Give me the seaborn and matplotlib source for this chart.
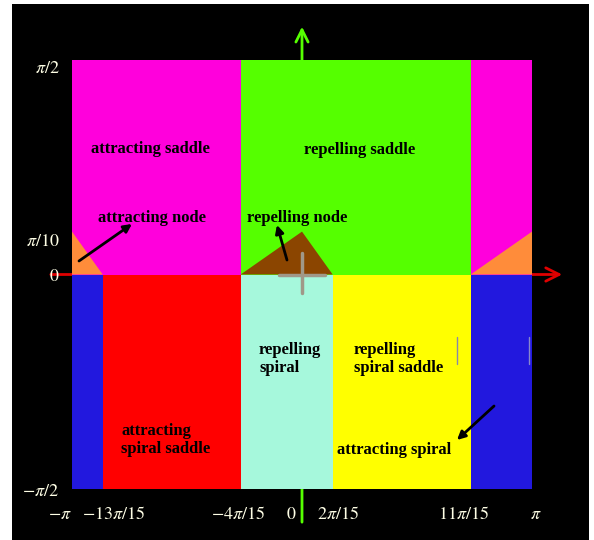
import numpy as np
import matplotlib
matplotlib.use("Agg")
import matplotlib.pyplot as plt
from matplotlib.patches import Rectangle
from matplotlib.transforms import ScaledTranslation
import seaborn as sns

PI = np.pi

# Parameter plane: theta (x) vs phi (y)
x_edges = [-PI, -13 * PI / 15, -4 * PI / 15, 2 * PI / 15, 11 * PI / 15, PI]
lower_colors = ["#2218DE", "#FF0000", "#A6F8DC", "#FFFF00", "#2218DE"]

upper_edges = [-PI, -4 * PI / 15, 11 * PI / 15, PI]
upper_colors = ["#FF00DC", "#55FF00", "#FF00DC"]

# node wedges sitting on phi = 0
node_left_x = [-PI, -PI, -13 * PI / 15]
node_left_y = [0, PI / 10, 0]
node_mid_x = [-4 * PI / 15, 0, 2 * PI / 15]
node_mid_y = [0, PI / 10, 0]
node_right_x = [11 * PI / 15, PI, PI]
node_right_y = [0, PI / 10, 0]
node_colors = ["#FF8C3A", "#8B4500", "#FF8C3A"]

x_ticks = [-PI, -13 * PI / 15, -4 * PI / 15, 0, 2 * PI / 15, 11 * PI / 15, PI]
x_tick_labels = [r"$-\pi$", r"$-13\pi/15$", r"$-4\pi/15$", r"$0$",
                 r"$2\pi/15$", r"$11\pi/15$", r"$\pi$"]
y_ticks = [-PI / 2, 0, PI / 10, PI / 2]
y_tick_labels = [r"$-\pi/2$", r"$0$", r"$\pi/10$", r"$\pi/2$"]

region_labels = [
    ("attracting saddle", -2.076, 0.919, "center"),
    ("repelling saddle", 0.792, 0.912, "center"),
    ("attracting node", -2.049, 0.414, "center"),
    ("repelling node", -0.068, 0.414, "center"),
    ("repelling\nspiral", -0.587, -0.619, "left"),
    ("repelling\nspiral saddle", 0.710, -0.619, "left"),
    ("attracting\nspiral saddle", -2.472, -1.212, "left"),
    ("attracting spiral", 0.478, -1.285, "left"),
]

pointers = [
    ((-3.046, 0.099), (-2.322, 0.370)),
    ((-0.205, 0.106), (-0.342, 0.363)),
    ((2.623, -0.963), (2.117, -1.212)),
]

sns.set_style("white")
plt.rcParams["mathtext.fontset"] = "stix"
plt.rcParams["font.family"] = ["Liberation Serif", "DejaVu Serif"]

fig = plt.figure(figsize=(5.94, 5.40), dpi=100)
fig.patch.set_facecolor("white")
fig.patches.append(Rectangle((12 / 594, 0), 577 / 594, 536 / 540,
                             transform=fig.transFigure, facecolor="black",
                             edgecolor="none", zorder=-10))

ax = fig.add_axes([72 / 594, 1 - 489 / 540, 460 / 594, 429 / 540])
ax.set_facecolor("black")
ax.set_xlim(-PI, PI)
ax.set_ylim(-PI / 2, PI / 2)

# coordinate axes, drawn beneath the regions
ax.annotate("", xy=(3.592, 0), xytext=(-3.469, 0), annotation_clip=False,
            arrowprops=dict(arrowstyle="->", color="#E00000", lw=2,
                            mutation_scale=24), zorder=0)
ax.annotate("", xy=(0, 1.835), xytext=(0, -1.834), annotation_clip=False,
            arrowprops=dict(arrowstyle="->", color="#55FF00", lw=2,
                            mutation_scale=22), zorder=0)

for i, c in enumerate(lower_colors):
    ax.fill_between([x_edges[i], x_edges[i + 1]], -PI / 2, 0,
                    color=c, lw=0, zorder=1)
for i, c in enumerate(upper_colors):
    ax.fill_between([upper_edges[i], upper_edges[i + 1]], 0, PI / 2,
                    color=c, lw=0, zorder=1)
for xs, ys, c in zip([node_left_x, node_mid_x, node_right_x],
                     [node_left_y, node_mid_y, node_right_y], node_colors):
    ax.fill(xs, ys, color=c, lw=0, zorder=2)

# small grey cross at the origin
ax.plot([0, 0], [-0.135, 0.157], color="#A09888", lw=2.5, zorder=3)
ax.plot([-0.314, 0.314], [0, 0], color="#A09888", lw=2.5, zorder=3)
ax.plot([2.12, 2.12], [-0.455, -0.654], color="#8888AA", lw=1, zorder=3)
ax.plot([3.10, 3.10], [-0.455, -0.654], color="#8888CC", lw=1, zorder=3)

for text, x, y, ha in region_labels:
    ax.text(x, y, text, ha=ha, va="center", fontsize=12, fontweight="bold",
            color="black", linespacing=1.15, zorder=5)

for (tx, ty), (hx, hy) in pointers:
    ax.annotate("", xy=(hx, hy), xytext=(tx, ty),
                arrowprops=dict(arrowstyle="-|>", color="black", lw=2,
                                mutation_scale=12, shrinkA=0, shrinkB=0),
                zorder=6)

ax.set_xticks(x_ticks)
ax.set_xticklabels(x_tick_labels)
ax.set_yticks(y_ticks)
ax.set_yticklabels(y_tick_labels)
ax.tick_params(axis="both", length=0, colors="#FFFFE6", labelsize=13)
ax.tick_params(axis="x", pad=12)
ax.tick_params(axis="y", pad=9)
ax.set_xlabel("")
ax.set_ylabel("")
for s in ax.spines.values():
    s.set_visible(False)

# nudge crowded tick labels apart (offsets in points)
x_nudge = [-9, 8, -2, -8, 4, -5, 3]
for lab, dx in zip(ax.get_xticklabels(), x_nudge):
    lab.set_transform(lab.get_transform()
                      + ScaledTranslation(dx / 72, 0, fig.dpi_scale_trans))
y_nudge = [0, 0, -6, -5]
for lab, dy in zip(ax.get_yticklabels(), y_nudge):
    lab.set_transform(lab.get_transform()
                      + ScaledTranslation(0, dy / 72, fig.dpi_scale_trans))

fig.savefig("out.png", dpi=100, facecolor="white")
